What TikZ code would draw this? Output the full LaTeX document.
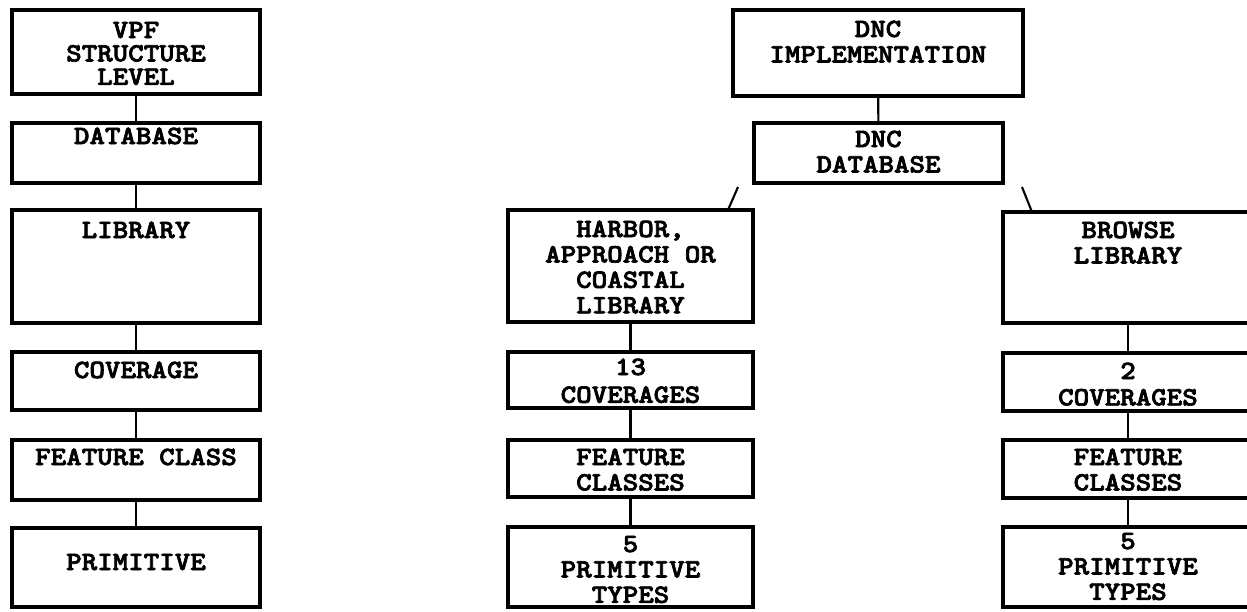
\documentclass[tikz,border=0pt]{standalone}
\usepackage{graphicx}
\usepackage{fontspec}
\newfontfamily\boxfont{lmmonolt10-bold.otf}[FakeBold=2.5]
\newcommand\boxtext[2][7.23]{\scalebox{1.12}[1]{\boxfont\fontsize{7.5}{#1}\selectfont\begin{tabular}[t]{@{}c@{}}#2\end{tabular}}}
\tikzset{
  frame/.style={draw, line width=1pt, rectangle, inner sep=0pt, outer sep=0pt},
  lbl/.style={anchor=base, inner sep=0pt, outer sep=0pt},
  link/.style={line width=0.6pt}
}
\begin{document}
\begin{tikzpicture}[x=0.01cm,y=-0.01cm]
\useasboundingbox (0,0) rectangle (1247,611);
\clip (0,0) rectangle (1247,611);
% left column
\node[frame, minimum width=2.48cm, minimum height=0.84cm] (l1) at (136,52) {};
\node[frame, minimum width=2.48cm, minimum height=0.60cm] (l2) at (136,153) {};
\node[frame, minimum width=2.48cm, minimum height=1.13cm] (l3) at (136,266.5) {};
\node[frame, minimum width=2.48cm, minimum height=0.58cm] (l4) at (136,381) {};
\node[frame, minimum width=2.48cm, minimum height=0.60cm] (l5) at (136,470) {};
\node[frame, minimum width=2.48cm, minimum height=0.79cm] (l6) at (136,567.5) {};
\node[lbl] (t1) at (136,38) {\boxtext[6.66]{VPF\\STRUCTURE\\LEVEL}};
\node[lbl] (t2) at (136,144) {\boxtext{DATABASE}};
\node[lbl] (t3) at (136,238) {\boxtext{LIBRARY}};
\node[lbl] (t4) at (136,378) {\boxtext{COVERAGE}};
\node[lbl] (t5) at (136,465) {\boxtext{FEATURE CLASS}};
\node[lbl] (t6) at (136,570) {\boxtext{PRIMITIVE}};
\draw[link] (l1) -- (l2);
\draw[link] (l2) -- (l3);
\draw[link] (l3) -- (l4);
\draw[link] (l4) -- (l5);
\draw[link] (l5) -- (l6);
% DNC top
\node[frame, minimum width=2.90cm, minimum height=0.86cm] (d1) at (878,53) {};
\node[frame, minimum width=2.49cm, minimum height=0.60cm] (d2) at (878.5,153) {};
\node[lbl] (td1) at (878,37) {\boxtext{DNC\\IMPLEMENTATION}};
\node[lbl] (td2) at (878.5,147) {\boxtext{DNC\\DATABASE}};
\draw[link] (d1) -- (d2);
% harbor column
\node[frame, minimum width=2.45cm, minimum height=1.12cm] (h1) at (630.5,266) {};
\node[frame, minimum width=2.45cm, minimum height=0.56cm] (h2) at (630.5,380) {};
\node[frame, minimum width=2.45cm, minimum height=0.57cm] (h3) at (630.5,468.5) {};
\node[frame, minimum width=2.45cm, minimum height=0.80cm] (h4) at (630.5,567) {};
\node[lbl] (th1) at (630.5,237) {\boxtext{HARBOR,\\APPROACH OR\\COASTAL\\LIBRARY}};
\node[lbl] (th2) at (630.5,375) {\boxtext[7.9]{13\\COVERAGES}};
\node[lbl] (th3) at (630.5,465) {\boxtext{FEATURE\\CLASSES}};
\node[lbl] (th4) at (630.5,552) {\boxtext{5\\PRIMITIVE\\TYPES}};
\draw[link] (h1) -- (h2);
\draw[link] (h2) -- (h3);
\draw[link] (h3) -- (h4);
% browse column
\node[frame, minimum width=2.50cm, minimum height=1.11cm] (b1) at (1128,267.5) {};
\node[frame, minimum width=2.50cm, minimum height=0.58cm] (b2) at (1128,382) {};
\node[frame, minimum width=2.50cm, minimum height=0.58cm] (b3) at (1128,469) {};
\node[frame, minimum width=2.50cm, minimum height=0.80cm] (b4) at (1128,567) {};
\node[lbl] (tb1) at (1128,238) {\boxtext{BROWSE\\LIBRARY}};
\node[lbl] (tb2) at (1128,379) {\boxtext[7.5]{2\\COVERAGES}};
\node[lbl] (tb3) at (1128,465) {\boxtext{FEATURE\\CLASSES}};
\node[lbl] (tb4) at (1128,549) {\boxtext{5\\PRIMITIVE\\TYPES}};
\draw[link] (b1) -- (b2);
\draw[link] (b2) -- (b3);
\draw[link] (b3) -- (b4);
% slanted links from DNC database
\coordinate (sa) at (738,187);
\coordinate (sb) at (1022,187);
\draw[link] (sa) -- (h1.north west -| 728,0);
\draw[link] (sb) -- (b1.north west -| 1032,0);
\end{tikzpicture}
\end{document}
